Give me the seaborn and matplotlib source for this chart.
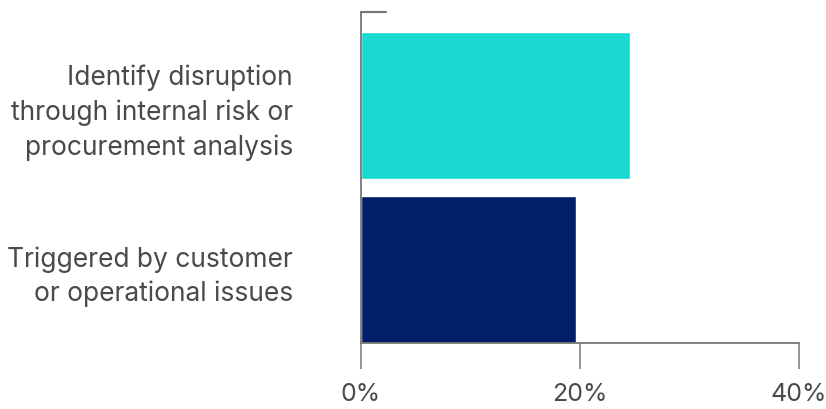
import matplotlib
matplotlib.use("Agg")
import matplotlib.pyplot as plt
import seaborn as sns
import pandas as pd

categories = ["Identify disruption\nthrough internal risk or\nprocurement analysis",
              "Triggered by customer\nor operational issues"]
values = [24.6, 19.6]
colors = ["#1AD9D3", "#001E69"]
xticks = [0, 20, 40]
xticklabels = ["0%", "20%", "40%"]

sns.set_theme(style="white")
plt.rcParams["font.family"] = ["Inter", "DejaVu Sans"]

df = pd.DataFrame({"cat": categories, "val": values})

fig = plt.figure(figsize=(8.26, 4.09), dpi=100)
ax = fig.add_axes([361/826, 1 - 343/409, (799 - 361)/826, (343 - 12)/409])

sns.barplot(data=df, y="cat", x="val", hue="cat", palette=colors,
            width=0.896, legend=False, ax=ax, saturation=1)

ax.set_xlim(0, 40)
ax.set_ylim(1.448, -0.570)
ax.set_xlabel("")
ax.set_ylabel("")

ax.set_xticks(xticks)
ax.set_xticklabels(xticklabels)
for s in ["top", "right"]:
    ax.spines[s].set_visible(False)
for s in ["left", "bottom"]:
    ax.spines[s].set_color("#777777")
    ax.spines[s].set_linewidth(1.3)
ax.axhline(-0.570, xmin=0, xmax=25/438, color="#777777", lw=1.6, clip_on=False)

ax.tick_params(axis="x", length=19, width=1.1, color="#777777", pad=10,
               labelsize=18, labelcolor="#4a4a4a", bottom=True)
ax.tick_params(axis="y", length=0, pad=49, labelsize=19, labelcolor="#4a4a4a")
for t in ax.get_yticklabels():
    t.set_linespacing(1.4)

fig.savefig("out.png", dpi=100)
